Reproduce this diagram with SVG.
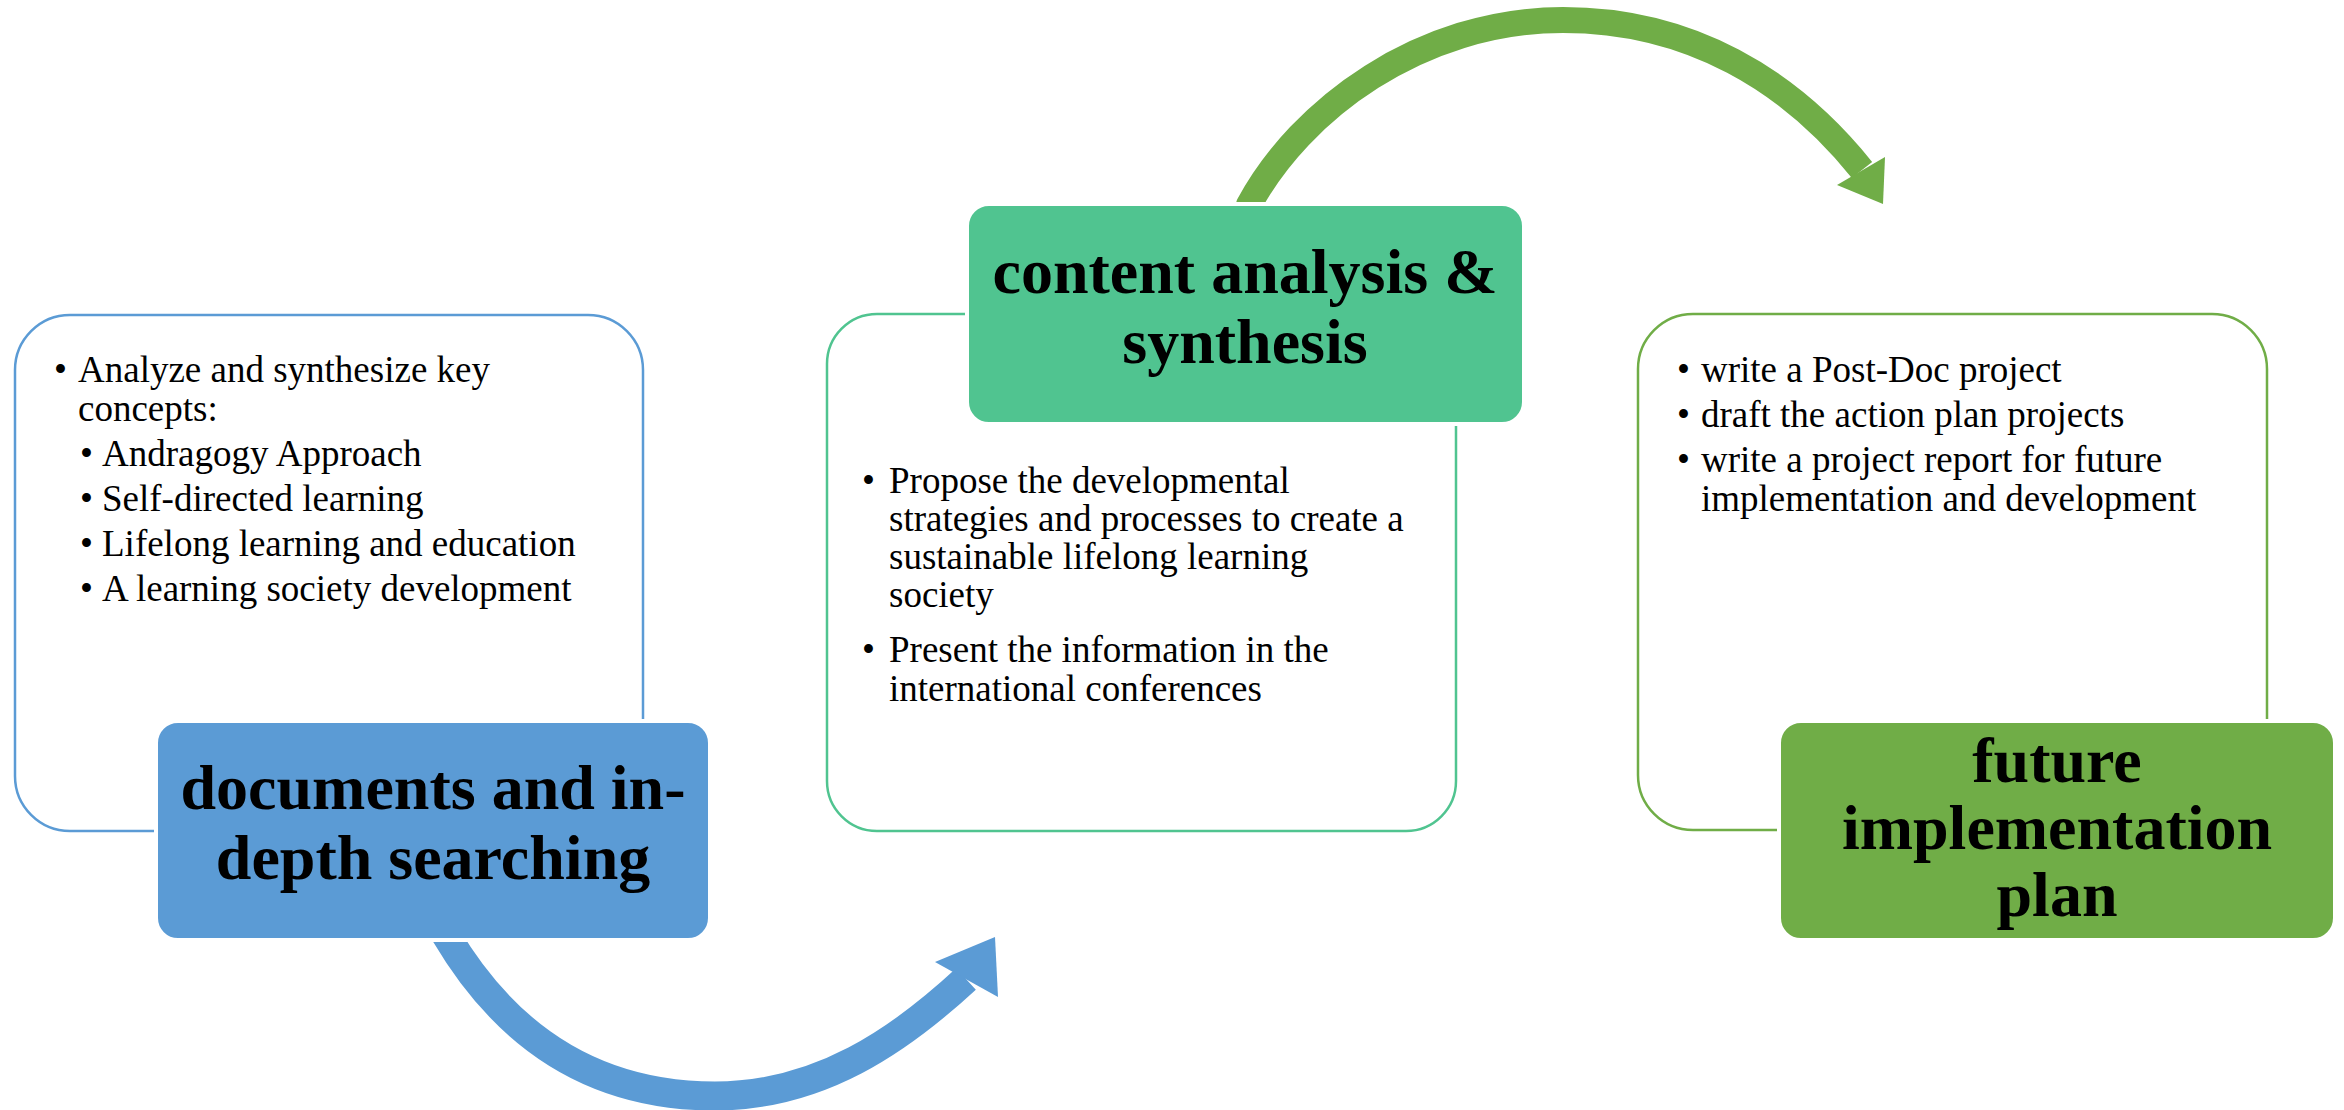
<svg xmlns="http://www.w3.org/2000/svg" width="2344" height="1110" viewBox="0 0 2344 1110">
  <style>
    .outline { fill: #FFFFFF; stroke-width: 2.5; }
    .head { stroke: #FFFFFF; stroke-width: 4; }
    .title { font-family: "Liberation Serif", "Times New Roman", serif; font-weight: bold; font-size: 64px; fill: #000000; text-anchor: middle; }
    .body { font-family: "Liberation Serif", "Times New Roman", serif; font-size: 37px; fill: #000000; }
    .band { fill: none; stroke-linecap: butt; }
  </style>
  <rect width="2344" height="1110" fill="#FFFFFF"/>

  <g id="connectors">
    <g id="arrow-blue">
      <path class="band" d="M 440 925 L 446 935 C 520 1060 620 1096 715 1096 C 820 1096 900 1040 966 979" stroke="#5B9BD5" stroke-width="29"/>
      <polygon points="935,962 995,937 998,997" fill="#5B9BD5"/>
    </g>
    <g id="arrow-green">
      <path class="band" d="M 1244 222 L 1249 205 C 1300 110 1420 20 1563 20 C 1690 20 1790 80 1862 170" stroke="#70AD47" stroke-width="26"/>
      <polygon points="1837,185 1885,157 1883,204" fill="#70AD47"/>
    </g>
  </g>

  <g id="node-documents">
    <rect class="outline" x="15" y="315" width="628" height="516" rx="55" ry="55" stroke="#5B9BD5"/>
    <text class="body"><tspan x="54" y="382">•</tspan><tspan x="78" y="382">Analyze and synthesize key</tspan></text>
    <text class="body" x="78" y="421">concepts:</text>
    <text class="body"><tspan x="80" y="466">•</tspan><tspan x="102" y="466">Andragogy Approach</tspan></text>
    <text class="body"><tspan x="80" y="511">•</tspan><tspan x="102" y="511">Self-directed learning</tspan></text>
    <text class="body"><tspan x="80" y="556">•</tspan><tspan x="102" y="556">Lifelong learning and education</tspan></text>
    <text class="body"><tspan x="80" y="601">•</tspan><tspan x="102" y="601">A learning society development</tspan></text>
    <rect class="head" x="156" y="721" width="554" height="219" rx="22" ry="22" fill="#5B9BD5"/>
    <text class="title" x="433" y="809">documents and in-</text>
    <text class="title" x="433" y="879">depth searching</text>
  </g>

  <g id="node-content">
    <rect class="outline" x="827" y="314" width="629" height="517" rx="50" ry="50" stroke="#50C490"/>
    <text class="body"><tspan x="862" y="493">•</tspan><tspan x="889" y="493">Propose the developmental</tspan></text>
    <text class="body" x="889" y="531">strategies and processes to create a</text>
    <text class="body" x="889" y="569">sustainable lifelong learning</text>
    <text class="body" x="889" y="607">society</text>
    <text class="body"><tspan x="862" y="662">•</tspan><tspan x="889" y="662">Present the information in the</tspan></text>
    <text class="body" x="889" y="701">international conferences</text>
    <rect class="head" x="967" y="204" width="557" height="220" rx="22" ry="22" fill="#50C490"/>
    <text class="title" x="1245" y="293">content analysis &amp;</text>
    <text class="title" x="1245" y="363">synthesis</text>
  </g>

  <g id="node-future">
    <rect class="outline" x="1638" y="314" width="629" height="516" rx="55" ry="55" stroke="#70AD47"/>
    <text class="body"><tspan x="1677" y="382">•</tspan><tspan x="1701" y="382">write a Post-Doc project</tspan></text>
    <text class="body"><tspan x="1677" y="427">•</tspan><tspan x="1701" y="427">draft the action plan projects</tspan></text>
    <text class="body"><tspan x="1677" y="472">•</tspan><tspan x="1701" y="472">write a project report for future</tspan></text>
    <text class="body" x="1701" y="511">implementation and development</text>
    <rect class="head" x="1779" y="721" width="556" height="219" rx="22" ry="22" fill="#70AD47"/>
    <text class="title" x="2057" y="782">future</text>
    <text class="title" x="2057" y="849">implementation</text>
    <text class="title" x="2057" y="916">plan</text>
  </g>
</svg>
